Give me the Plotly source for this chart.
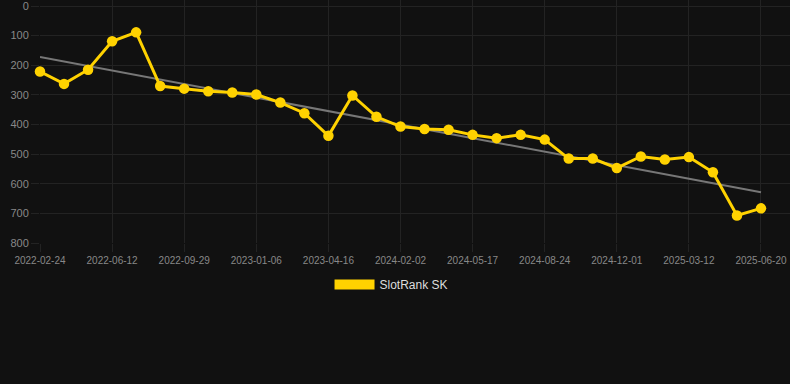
import plotly.graph_objects as go

# ---- data ----
tick_labels = ["2022-02-24", "2022-06-12", "2022-09-29", "2023-01-06", "2023-04-16",
               "2024-02-02", "2024-05-17", "2024-08-24", "2024-12-01", "2025-03-12",
               "2025-06-20"]
rank_values = [221, 263, 215, 119, 89, 270, 279, 288, 292, 299, 326, 362, 438, 302, 374,
               407, 415, 418, 435, 446, 435, 451, 515, 515, 547, 508, 518, 510, 561, 707, 683]
trend_values = [172, 629]  # trend line at first and last point
y_ticks = [0, 100, 200, 300, 400, 500, 600, 700, 800]
series_name = "SlotRank SK"

idx = list(range(len(rank_values)))
tick_positions = idx[::3]
trend_x = [idx[0], idx[-1]]

YELLOW = "#FFD200"
BG = "#111111"
TICK = "#888888"
GRID = "#232323"

fig = go.Figure()
fig.add_trace(go.Scatter(x=trend_x, y=trend_values, mode="lines",
                         line=dict(color="#777777", width=2), showlegend=False,
                         hoverinfo="skip", cliponaxis=False))
fig.add_trace(go.Scatter(x=idx, y=rank_values, mode="lines+markers",
                         line=dict(color=YELLOW, width=3),
                         marker=dict(color=YELLOW, size=10.5),
                         showlegend=False, cliponaxis=False))
fig.add_trace(go.Scatter(x=[None], y=[None], mode="lines", name=series_name,
                         line=dict(color=YELLOW, width=12), showlegend=True))

fig.update_layout(
    width=790, height=384,
    paper_bgcolor=BG, plot_bgcolor=BG,
    margin=dict(l=40, r=0, t=0, b=141),
    font=dict(family="Arial, Liberation Sans, sans-serif", color=TICK, size=10),
    xaxis=dict(range=[0, 31.207], tickmode="array", tickvals=tick_positions,
               ticktext=tick_labels, showgrid=True, gridcolor=GRID,
               zeroline=False, showline=False, ticks="outside", ticklen=8,
               tickcolor=GRID, tickfont=dict(size=10, color=TICK),
               ticklabeloverflow="allow"),
    yaxis=dict(range=[800, -20.25], tickmode="array", tickvals=y_ticks,
               showgrid=True, gridcolor=GRID, zeroline=False, showline=False,
               ticks="outside", ticklen=8, tickcolor=GRID,
               tickfont=dict(size=11, color=TICK), ticklabeloverflow="allow"),
    legend=dict(orientation="h", x=0.4687, xanchor="center", y=-0.111, yanchor="top",
                font=dict(color="#dddddd", size=12), itemwidth=40),
)

fig.write_html("out.html", config={"displayModeBar": False})
with open("out.html", "r", encoding="utf-8") as f:
    html = f.read()
html = html.replace("<body>", "<body style=\"margin:0;background:#111111;overflow:hidden\">", 1)
with open("out.html", "w", encoding="utf-8") as f:
    f.write(html)
